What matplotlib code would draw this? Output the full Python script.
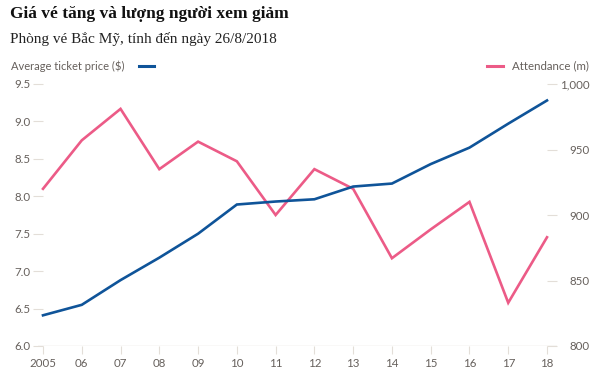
import matplotlib
matplotlib.use("Agg")
import matplotlib.pyplot as plt

years = [2005, 2006, 2007, 2008, 2009, 2010, 2011, 2012, 2013, 2014, 2015, 2016, 2017, 2018]
year_labels = ["2005", "06", "07", "08", "09", "10", "11", "12", "13", "14", "15", "16", "17", "18"]

# Average ticket price ($), left axis
price = [6.41, 6.55, 6.88, 7.18, 7.50, 7.89, 7.93, 7.96, 8.13, 8.17, 8.43, 8.65, 8.97, 9.28]
# Attendance (m), right axis
attendance = [920, 957, 981, 935, 956, 941, 900, 935, 920, 867, 889, 910, 833, 883]

price_ticks = [6.0, 6.5, 7.0, 7.5, 8.0, 8.5, 9.0, 9.5]
att_ticks = [800, 850, 900, 950, 1000]
att_labels = ["800", "850", "900", "950", "1,000"]

blue = "#0f5499"
pink = "#ec5b87"
grey_text = "#66605c"
grey_line = "#e3ded8"
sans = ["Lato", "DejaVu Sans"]
serif = ["Liberation Serif", "DejaVu Serif"]

W, H = 600, 377
fig = plt.figure(figsize=(6, 3.77), dpi=100)

# plot area in pixels: x 38..557, y 84..346 (from top)
left, right, top, bottom = 38, 557, 84, 346
ax = fig.add_axes([left / W, (H - bottom) / H, (right - left) / W, (bottom - top) / H])
step = (547 - 43) / 13
ax.set_xlim(2005 - (43 - left) / step, 2018 + (right - 547) / step)
ax.set_ylim(6.0, 9.5)

ax2 = ax.twinx()
ax2.set_ylim(800, 1000)

ax2.plot(years, attendance, color=pink, lw=1.9, solid_joinstyle="miter", zorder=2)
ax.plot(years, price, color=blue, lw=1.9, solid_joinstyle="miter", zorder=3)
ax.set_zorder(ax2.get_zorder() + 1)
ax.patch.set_visible(False)

for a in (ax, ax2):
    for s in a.spines.values():
        s.set_visible(False)

ax.axhline(6.0, color=grey_line, lw=1, zorder=0)

ax.set_yticks(price_ticks)
ax.set_yticklabels([f"{v:.1f}" for v in price_ticks], family=sans, fontsize=8.3, color=grey_text)
ax.tick_params(axis="y", direction="inout", length=7.2, width=0.8, color=grey_line, pad=1.5)

ax.set_xticks(years)
ax.set_xticklabels(year_labels, family=sans, fontsize=8.3, color=grey_text)
ax.tick_params(axis="x", direction="out", length=5.8, width=0.8, color=grey_line, pad=3)

ax2.set_yticks(att_ticks)
ax2.set_yticklabels(att_labels, family=sans, fontsize=8.3, color=grey_text)
ax2.tick_params(axis="y", direction="in", length=7.2, width=0.8, color=grey_line, pad=23.8)
for t in ax2.get_yticklabels():
    t.set_ha("right")

# titles
fig.text(10 / W, 1 - 14 / H, "Giá vé tăng và lượng người xem giảm", family=serif,
         fontweight="bold", fontsize=12.5, color="#111111", va="center", ha="left")
fig.text(10 / W, 1 - 39 / H, "Phòng vé Bắc Mỹ, tính đến ngày 26/8/2018", family=serif,
         fontsize=11, color="#222222", va="center", ha="left")

# legends
fig.text(11 / W, 1 - 66 / H, "Average ticket price ($)", family=sans, fontsize=8,
         color=grey_text, va="center", ha="left")
fig.add_artist(plt.Line2D([139 / W, 154 / W], [1 - 66 / H, 1 - 66 / H], color=blue, lw=2.2))
fig.text(589 / W, 1 - 66 / H, "Attendance (m)", family=sans, fontsize=8.3,
         color=grey_text, va="center", ha="right")
fig.add_artist(plt.Line2D([487 / W, 503 / W], [1 - 66 / H, 1 - 66 / H], color=pink, lw=2.2))

fig.savefig("out.png", dpi=100, facecolor="white")
